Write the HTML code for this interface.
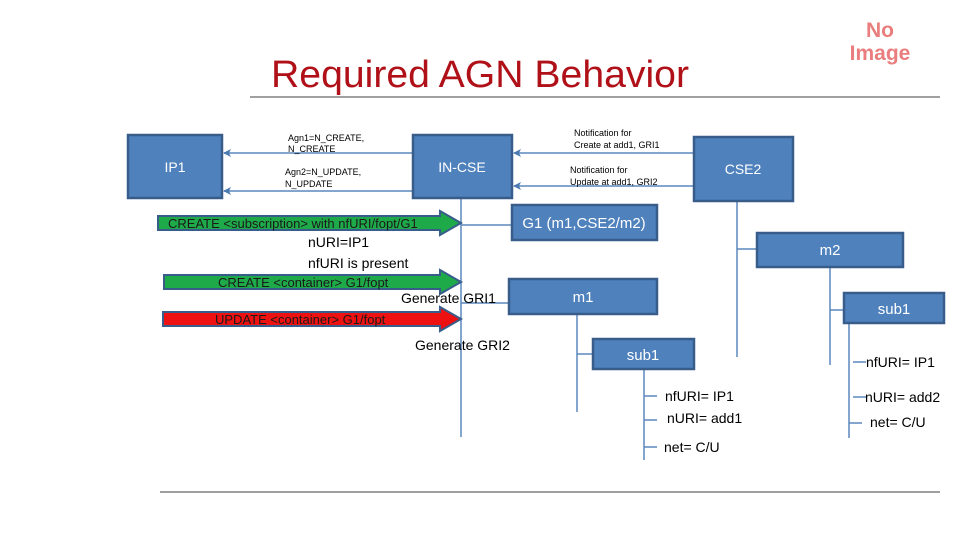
<!DOCTYPE html>
<html><head><meta charset="utf-8"><style>body{margin:0;background:#fff}svg{display:block}</style></head><body>
<svg width="960" height="540" viewBox="0 0 960 540" xmlns="http://www.w3.org/2000/svg" font-family="Liberation Sans, sans-serif">
<defs><marker id="ah" markerWidth="8" markerHeight="8" refX="7" refY="4" orient="auto" markerUnits="userSpaceOnUse"><path d="M0,0 L8,4 L0,8 L2,4 Z" fill="#4a7ab0"/></marker></defs>
<text x="880" y="37" font-size="21" font-weight="bold" fill="#ea7d7d" text-anchor="middle">No</text>
<text x="880" y="60" font-size="21" font-weight="bold" fill="#ea7d7d" text-anchor="middle">Image</text>
<text x="480" y="87" font-size="38" fill="#b01018" text-anchor="middle" textLength="418" lengthAdjust="spacingAndGlyphs">Required AGN Behavior</text>
<line x1="250" y1="97" x2="940" y2="97" stroke="#a0a0a0" stroke-width="2"/>
<line x1="160" y1="492" x2="940" y2="492" stroke="#a0a0a0" stroke-width="2"/>
<g stroke="#5b87bd" stroke-width="1.5" fill="none">
<line x1="413" y1="153" x2="224" y2="153" marker-end="url(#ah)"/>
<line x1="413" y1="191" x2="224" y2="191" marker-end="url(#ah)"/>
<line x1="694" y1="153" x2="514" y2="153" marker-end="url(#ah)"/>
<line x1="694" y1="186" x2="514" y2="186" marker-end="url(#ah)"/>
<line x1="461" y1="198" x2="461" y2="437"/>
<line x1="461" y1="225" x2="512" y2="225"/>
<line x1="461" y1="303" x2="509" y2="303"/>
<line x1="737" y1="201" x2="737" y2="357"/>
<line x1="737" y1="249" x2="757" y2="249"/>
<line x1="830" y1="267" x2="830" y2="365"/>
<line x1="830" y1="310" x2="844" y2="310"/>
<line x1="849" y1="323" x2="849" y2="438"/>
<line x1="853" y1="362" x2="866" y2="362"/>
<line x1="853" y1="397" x2="866" y2="397"/>
<line x1="849" y1="423" x2="862" y2="423"/>
<line x1="577" y1="314" x2="577" y2="412"/>
<line x1="577" y1="354" x2="593" y2="354"/>
<line x1="644" y1="369" x2="644" y2="460"/>
<line x1="644" y1="396" x2="657" y2="396"/>
<line x1="644" y1="420" x2="657" y2="420"/>
<line x1="644" y1="447" x2="657" y2="447"/>
</g>
<g fill="#4f81bd" stroke="#385d8a" stroke-width="2.5">
<rect x="128" y="135" width="94" height="63"/>
<rect x="413" y="135" width="99" height="63"/>
<rect x="694" y="137" width="99" height="64"/>
<rect x="512" y="205" width="145" height="35"/>
<rect x="757" y="233" width="146" height="34"/>
<rect x="844" y="293" width="100" height="30"/>
<rect x="509" y="279" width="148" height="35"/>
<rect x="593" y="339" width="101" height="30"/>
</g>
<g fill="#fff" font-size="14" text-anchor="middle">
<text x="175" y="172">IP1</text>
<text x="462" y="172">IN-CSE</text>
<text x="743" y="174">CSE2</text>
<text x="584" y="228" font-size="15">G1 (m1,CSE2/m2)</text>
<text x="830" y="255" font-size="15">m2</text>
<text x="894" y="314" font-size="15">sub1</text>
<text x="583" y="302" font-size="15">m1</text>
<text x="643" y="360" font-size="15">sub1</text>
</g>
<g font-size="9" fill="#000">
<text x="288" y="141">Agn1=N_CREATE,</text>
<text x="288" y="152">N_CREATE</text>
<text x="285" y="175">Agn2=N_UPDATE,</text>
<text x="285" y="187">N_UPDATE</text>
<text x="574" y="136">Notification for</text>
<text x="574" y="148">Create at add1, GRI1</text>
<text x="570" y="173">Notification for</text>
<text x="570" y="185">Update at add1, GRI2</text>
</g>
<path d="M158,216 H440 V211 L461,223 L440,235 V230 H158 Z" fill="#1faa4a" stroke="#385d8a" stroke-width="2"/>
<path d="M164,275 H440 V270 L461,282 L440,294 V289 H164 Z" fill="#1faa4a" stroke="#385d8a" stroke-width="2"/>
<path d="M163,312 H440 V307 L461,319 L440,331 V326 H163 Z" fill="#ee1111" stroke="#385d8a" stroke-width="2"/>
<g font-size="13" fill="#1a1a1a">
<text x="168" y="228">CREATE &lt;subscription&gt; with nfURI/fopt/G1</text>
<text x="218" y="287">CREATE &lt;container&gt; G1/fopt</text>
<text x="215" y="324">UPDATE &lt;container&gt; G1/fopt</text>
</g>
<g font-size="14" fill="#000">
<text x="308" y="247">nURI=IP1</text>
<text x="308" y="268">nfURI is present</text>
<text x="401" y="303">Generate GRI1</text>
<text x="415" y="350">Generate GRI2</text>
<text x="665" y="401">nfURI= IP1</text>
<text x="667" y="423">nURI= add1</text>
<text x="664" y="452">net= C/U</text>
<text x="866" y="367">nfURI= IP1</text>
<text x="865" y="402">nURI= add2</text>
<text x="870" y="427">net= C/U</text>
</g>
</svg>
</body></html>
